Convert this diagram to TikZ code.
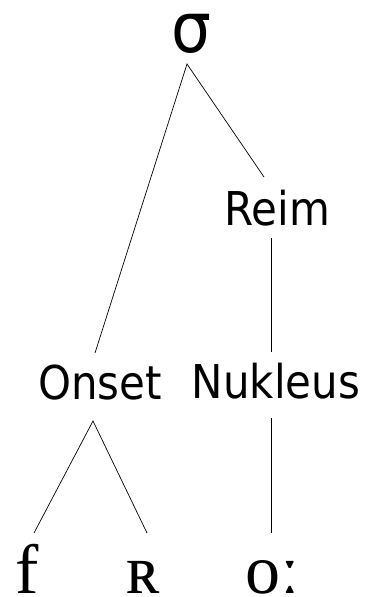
\documentclass[tikz,border=0pt]{standalone}
\usepackage{fontspec}
\setmainfont{DejaVu Sans Condensed}
\newfontfamily\ipafont{Liberation Serif}
\begin{document}
\begin{tikzpicture}[x=1pt,y=-1pt,
  lbl/.style={anchor=base,inner sep=0pt,font=\fontsize{46.6}{50}\selectfont},
  top/.style={anchor=base,inner sep=0pt,font=\fontsize{70}{70}\selectfont},
  seg/.style={anchor=base,inner sep=0pt,font=\ipafont\fontsize{70}{70}\selectfont},
  branch/.style={line width=0.7pt,black}]
\useasboundingbox (0,0) rectangle (366,597);
\node[top] (sigma) at (191.5,52) {σ};
\node[lbl] (reim) at (277.5,225) {Reim};
\node[lbl] (onset) at (100,399) {Onset};
\node[lbl] (nukleus) at (276,398) {Nukleus};
\node[seg] (f) at (27,593) {f};
\node[seg] (r) at (144,593) {ʀ};
\node[seg] (o) at (272.5,593) {oː};
\coordinate (sigmaB) at (187,64);
\coordinate (reimT) at (264,177);
\coordinate (reimB) at (271,238);
\coordinate (onsetT) at (95,353);
\coordinate (onsetB) at (93,421);
\coordinate (nukT) at (271,352);
\coordinate (nukB) at (271,418);
\coordinate (fT) at (34,533);
\coordinate (rT) at (147,533);
\coordinate (oT) at (271,533);
\draw[branch] (reimT) -- (sigmaB) -- (onsetT);
\draw[branch] (reimB) -- (nukT);
\draw[branch] (fT) -- (onsetB) -- (rT);
\draw[branch] (nukB) -- (oT);
\end{tikzpicture}
\end{document}
